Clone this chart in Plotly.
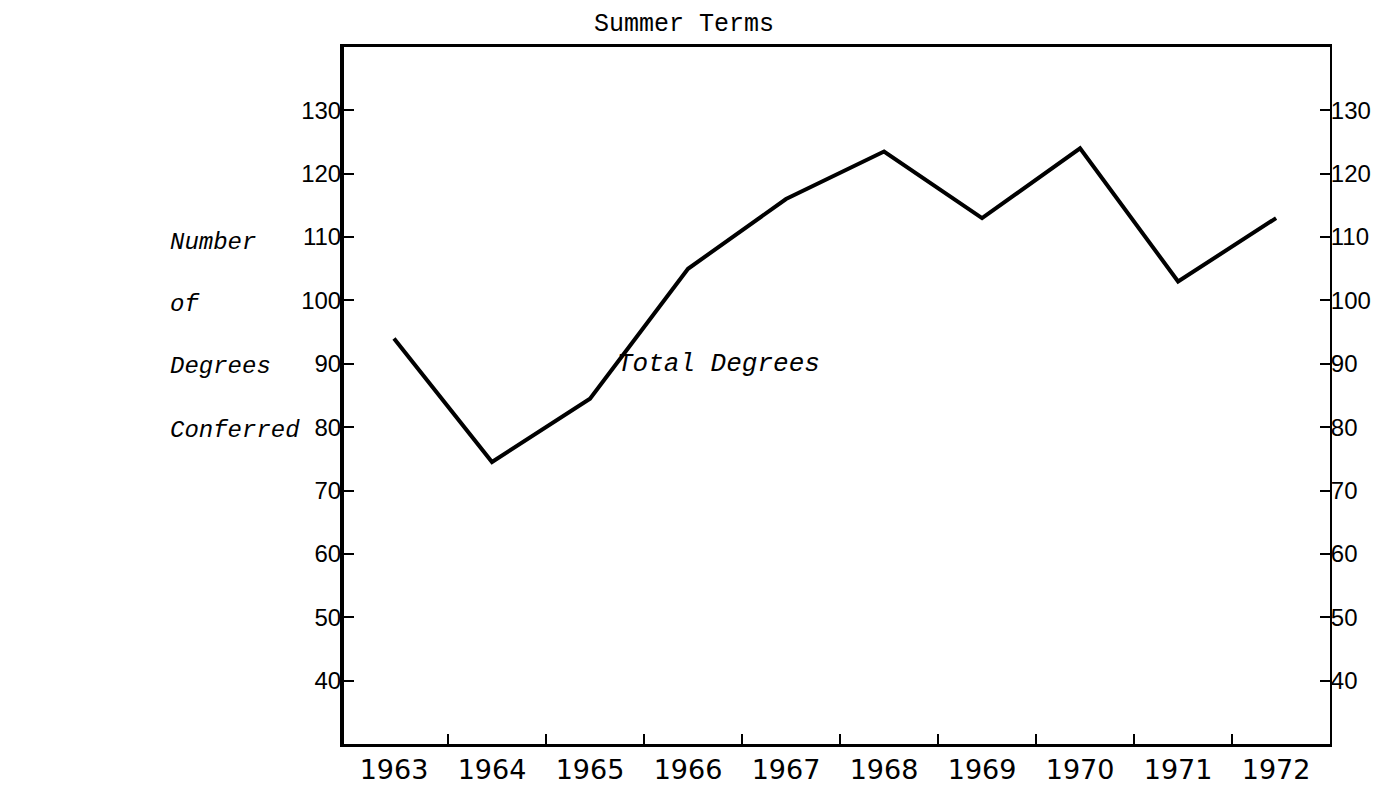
import plotly.graph_objects as go

years = [1963, 1964, 1965, 1966, 1967, 1968, 1969, 1970, 1971, 1972]
total_degrees = [94, 74.5, 84.5, 105, 116, 123.5, 113, 124, 103, 113]
year_labels = [str(y) for y in years]
tick_marks = [y + 0.55 for y in years[:-1]]
y_ticks = [40, 50, 60, 70, 80, 90, 100, 110, 120, 130]
left_words = ["Number", "of", "Degrees", "Conferred"]
left_word_y = [109.2, 99.4, 89.6, 79.5]

W, H = 1388, 789
L, R, T, B = 336, 66, 39, 40

fig = go.Figure()
fig.add_trace(go.Scatter(x=years, y=total_degrees, mode="lines",
                         line=dict(color="black", width=4), showlegend=False,
                         hoverinfo="skip"))
fig.add_trace(go.Scatter(x=[None], y=[None], yaxis="y2", showlegend=False,
                         hoverinfo="skip"))

xr = [1962.49, 1972.55]
yr = [30, 140]

fig.update_layout(
    width=W, height=H,
    margin=dict(l=L, r=R, t=T, b=B),
    paper_bgcolor="white", plot_bgcolor="white",
    xaxis=dict(range=xr, tickvals=years, ticktext=year_labels, ticks="",
               showgrid=False, zeroline=False, showline=True, linecolor="black",
               linewidth=3, mirror=True,
               tickfont=dict(family="DejaVu Sans", size=27, color="black"),
               minor=dict(tickvals=tick_marks, ticks="inside", ticklen=10,
                          tickwidth=2, tickcolor="black", showgrid=False)),
    yaxis=dict(range=yr, tickvals=y_ticks, ticks="inside", ticklen=10,
               tickwidth=2, tickcolor="black", showgrid=False, zeroline=False,
               showline=True, linecolor="black", linewidth=4, mirror=False,
               ticklabelstandoff=-6,
               tickfont=dict(family="Liberation Sans", size=24, color="black")),
    yaxis2=dict(range=yr, tickvals=y_ticks, overlaying="y", side="right",
                ticks="inside", ticklen=10, tickwidth=2, tickcolor="black",
                showgrid=False, zeroline=False, showline=True,
                linecolor="black", linewidth=2, ticklabelstandoff=-6,
                tickfont=dict(family="Liberation Sans", size=24, color="black")),
)

fig.add_annotation(text="Summer Terms", xref="paper", yref="paper",
                   x=(676 - L) / (W - L - R), y=1 + (T - 16) / (H - T - B),
                   showarrow=False, xanchor="center", yanchor="middle",
                   font=dict(family="Liberation Mono", size=25, color="black"))

fig.add_annotation(text="Total Degrees", xref="x", yref="y",
                   x=1965.25, y=90.0, showarrow=False, xanchor="left",
                   yanchor="middle",
                   font=dict(family="Liberation Mono", size=26, color="black",
                             style="italic"))

for word, wy in zip(left_words, left_word_y):
    fig.add_annotation(text=word, xref="paper", yref="y",
                       x=(160 - L) / (W - L - R), y=wy, showarrow=False,
                       xanchor="left", yanchor="middle",
                       font=dict(family="Liberation Mono", size=24,
                                 color="black", style="italic"))

fig.write_html("out.html")
